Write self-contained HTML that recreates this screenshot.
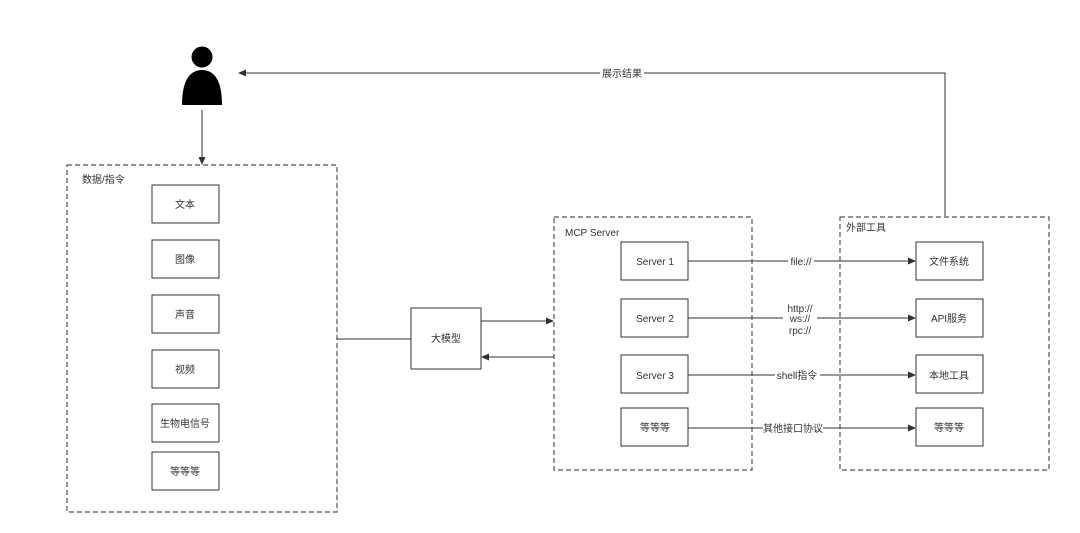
<!DOCTYPE html>
<html><head><meta charset="utf-8"><style>
body{margin:0;background:#fff;}
svg text{font-family:"Liberation Sans","Noto Sans CJK SC",sans-serif;font-size:10px;fill:#333;}
</style></head><body>
<svg width="1080" height="528" xmlns="http://www.w3.org/2000/svg">
<defs><marker id="a" markerWidth="8" markerHeight="8" refX="7" refY="4" orient="auto" markerUnits="userSpaceOnUse"><path d="M0,0.5 L8,4 L0,7.5 Z" fill="#333"/></marker></defs>
<g fill="none" stroke="#555" stroke-width="1.2" stroke-dasharray="5,3">
<rect x="67" y="165" width="270" height="347"/>
<rect x="554" y="217" width="198" height="253"/>
<rect x="840" y="217" width="209" height="253"/>
</g>
<circle cx="202" cy="57" r="10.5" fill="#000"/>
<path d="M182,105 C182,80 190,70 202,70 C214,70 222,80 222,105 Z" fill="#000"/>
<g fill="#fff" stroke="#333" stroke-width="1">
<rect x="152" y="185" width="67" height="38"/>
<rect x="152" y="240" width="67" height="38"/>
<rect x="152" y="295" width="67" height="38"/>
<rect x="152" y="350" width="67" height="38"/>
<rect x="152" y="404" width="67" height="38"/>
<rect x="152" y="452" width="67" height="38"/>
<rect x="411" y="308" width="70" height="61"/>
<rect x="621" y="242" width="67" height="38"/>
<rect x="621" y="299" width="67" height="38"/>
<rect x="621" y="355" width="67" height="38"/>
<rect x="621" y="408" width="67" height="38"/>
<rect x="916" y="242" width="67" height="38"/>
<rect x="916" y="299" width="67" height="38"/>
<rect x="916" y="355" width="67" height="38"/>
<rect x="916" y="408" width="67" height="38"/>
</g>
<g stroke="#333" stroke-width="1" fill="none">
<line x1="202" y1="110" x2="202" y2="164" marker-end="url(#a)"/>
<polyline points="945,216 945,73 239,73" marker-end="url(#a)"/>
<line x1="337" y1="339" x2="411" y2="339"/>
<line x1="481" y1="321" x2="553" y2="321" marker-end="url(#a)"/>
<line x1="554" y1="357" x2="482" y2="357" marker-end="url(#a)"/>
<line x1="688" y1="261" x2="915" y2="261" marker-end="url(#a)"/>
<line x1="688" y1="318" x2="915" y2="318" marker-end="url(#a)"/>
<line x1="688" y1="375" x2="915" y2="375" marker-end="url(#a)"/>
<line x1="688" y1="428" x2="915" y2="428" marker-end="url(#a)"/>
</g>
<g fill="#fff">
<rect x="600" y="67" width="44" height="12"/>
<rect x="788" y="255" width="26" height="12"/>
<rect x="783" y="301" width="34" height="36"/>
<rect x="775" y="369" width="45" height="12"/>
<rect x="763" y="422" width="60" height="12"/>
</g>
<g text-anchor="middle">
<text x="622" y="77">展示结果</text>
<text x="185" y="208">文本</text>
<text x="185" y="263">图像</text>
<text x="185" y="318">声音</text>
<text x="185" y="373">视频</text>
<text x="185" y="427">生物电信号</text>
<text x="185" y="475">等等等</text>
<text x="446" y="342">大模型</text>
<text x="655" y="265">Server 1</text>
<text x="655" y="322">Server 2</text>
<text x="655" y="379">Server 3</text>
<text x="655" y="431">等等等</text>
<text x="949" y="265">文件系统</text>
<text x="949" y="322">API服务</text>
<text x="949" y="379">本地工具</text>
<text x="949" y="431">等等等</text>
<text x="801" y="265">file://</text>
<text x="800" y="312">http://</text>
<text x="800" y="322">ws://</text>
<text x="800" y="334">rpc://</text>
<text x="797" y="379">shell指令</text>
<text x="793" y="432">其他接口协议</text>
</g>
<text x="82" y="183">数据/指令</text>
<text x="565" y="236">MCP Server</text>
<text x="846" y="231">外部工具</text>
</svg>
</body></html>
